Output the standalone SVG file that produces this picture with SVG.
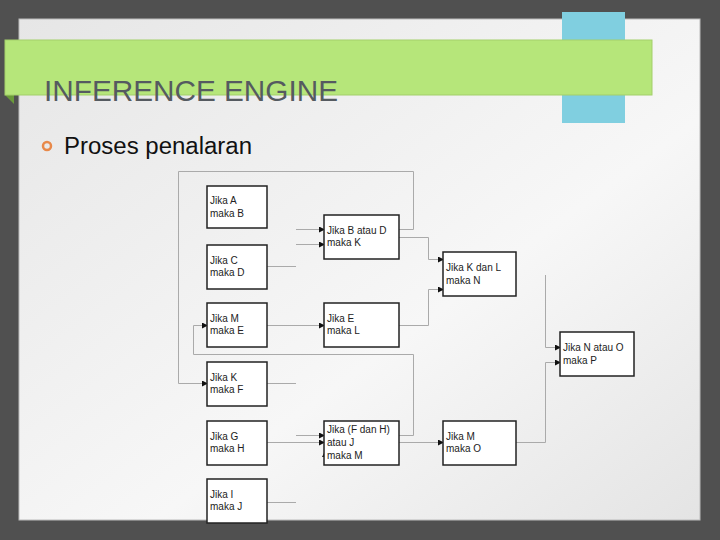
<svg xmlns="http://www.w3.org/2000/svg" width="720" height="540" viewBox="0 0 720 540">
<defs>
<linearGradient id="bg" x1="0" y1="0" x2="1" y2="1"><stop offset="0" stop-color="#e6e6e6"/><stop offset="0.6" stop-color="#f7f7f7"/><stop offset="1" stop-color="#e4e4e4"/></linearGradient>
<marker id="ar" markerWidth="6" markerHeight="6" refX="5" refY="3" orient="auto" markerUnits="userSpaceOnUse"><path d="M0,0 L6,3 L0,6 z" fill="#111"/></marker>
<style>
.n rect{fill:#fff;stroke:#222;stroke-width:1.5}
.n text{font-family:"Liberation Sans",Arial,sans-serif;font-size:10px;fill:#222}
.c path{fill:none;stroke:#aaa;stroke-width:1}
.c .a{marker-end:url(#ar)}
</style>
</defs>
<rect width="720" height="540" fill="#505050"/>
<rect x="19" y="19" width="681" height="501" fill="url(#bg)" stroke="#bbb"/>
<rect x="562" y="12" width="63" height="111" fill="#80cfe0"/>
<polygon points="5,95 14,104 14,95" fill="#6a9a3a"/>
<rect x="5" y="40" width="647" height="55" fill="#b6e67a" stroke="#a3cf6b"/>
<text x="44" y="101" font-family="Liberation Sans,Arial,sans-serif" font-size="29" fill="#555a60" textLength="294" lengthAdjust="spacingAndGlyphs">INFERENCE ENGINE</text>
<circle cx="47" cy="146" r="4" fill="none" stroke="#e8894a" stroke-width="2.5"/>
<text x="64" y="154" font-family="Liberation Sans,Arial,sans-serif" font-size="23" fill="#111" textLength="188" lengthAdjust="spacingAndGlyphs">Proses penalaran</text>
<g class="c" id="connectors">
<path class="a" d="M296,229.5 H324"/>
<path class="a" d="M296,244.5 H324"/>
<path d="M267,266.5 H296"/>
<path class="a" d="M399,229.5 H413.5 V171.5 H178.5 V383.5 H207"/>
<path class="a" d="M399,237.5 H428.5 V259.5 H443"/>
<path class="a" d="M399,325.5 H428.5 V289.5 H443"/>
<path class="a" d="M267,325.5 H324"/>
<path class="a" d="M399,435.5 H413.5 V354.5 H193.5 V325.5 H207"/>
<path d="M267,383.5 H296"/>
<path class="a" d="M296,435.5 H324"/>
<path class="a" d="M267,442.5 H324"/>
<path class="a" d="M325,462 V452"/>
<path d="M267,502.5 H296"/>
<path class="a" d="M399,442.5 H443"/>
<path class="a" d="M516,442.5 H545.5 V362.5 H560"/>
<path class="a" d="M545.5,275 V347.5 H560"/>
</g>
<g class="n" id="nA"><rect x="207" y="186" width="60" height="42"/><text x="210" y="204">Jika A</text><text x="210" y="217">maka B</text></g>
<g class="n" id="nC"><rect x="207" y="245" width="60" height="44"/><text x="210" y="264">Jika C</text><text x="210" y="276">maka D</text></g>
<g class="n" id="nM"><rect x="207" y="303" width="60" height="44"/><text x="210" y="322">Jika M</text><text x="210" y="334">maka E</text></g>
<g class="n" id="nK"><rect x="207" y="362" width="60" height="44"/><text x="210" y="381">Jika K</text><text x="210" y="393">maka F</text></g>
<g class="n" id="nG"><rect x="207" y="421" width="60" height="44"/><text x="210" y="440">Jika G</text><text x="210" y="452">maka H</text></g>
<g class="n" id="nI"><rect x="207" y="479" width="60" height="44"/><text x="210" y="498">Jika I</text><text x="210" y="510">maka J</text></g>
<g class="n" id="nBD"><rect x="324" y="215" width="75" height="44"/><text x="327" y="234">Jika B atau D</text><text x="327" y="246">maka K</text></g>
<g class="n" id="nE"><rect x="324" y="303" width="75" height="44"/><text x="327" y="322">Jika E</text><text x="327" y="334">maka L</text></g>
<g class="n" id="nFH"><rect x="324" y="421" width="75" height="44"/><text x="327" y="433">Jika (F dan H)</text><text x="327" y="446">atau J</text><text x="327" y="459">maka M</text></g>
<g class="n" id="nKL"><rect x="443" y="252" width="73" height="44"/><text x="446" y="271">Jika K dan L</text><text x="446" y="284">maka N</text></g>
<g class="n" id="nMO"><rect x="443" y="421" width="73" height="44"/><text x="446" y="440">Jika M</text><text x="446" y="452">maka O</text></g>
<g class="n" id="nNO"><rect x="560" y="332" width="74" height="44"/><text x="563" y="351">Jika N atau O</text><text x="563" y="364">maka P</text></g>
</svg>
